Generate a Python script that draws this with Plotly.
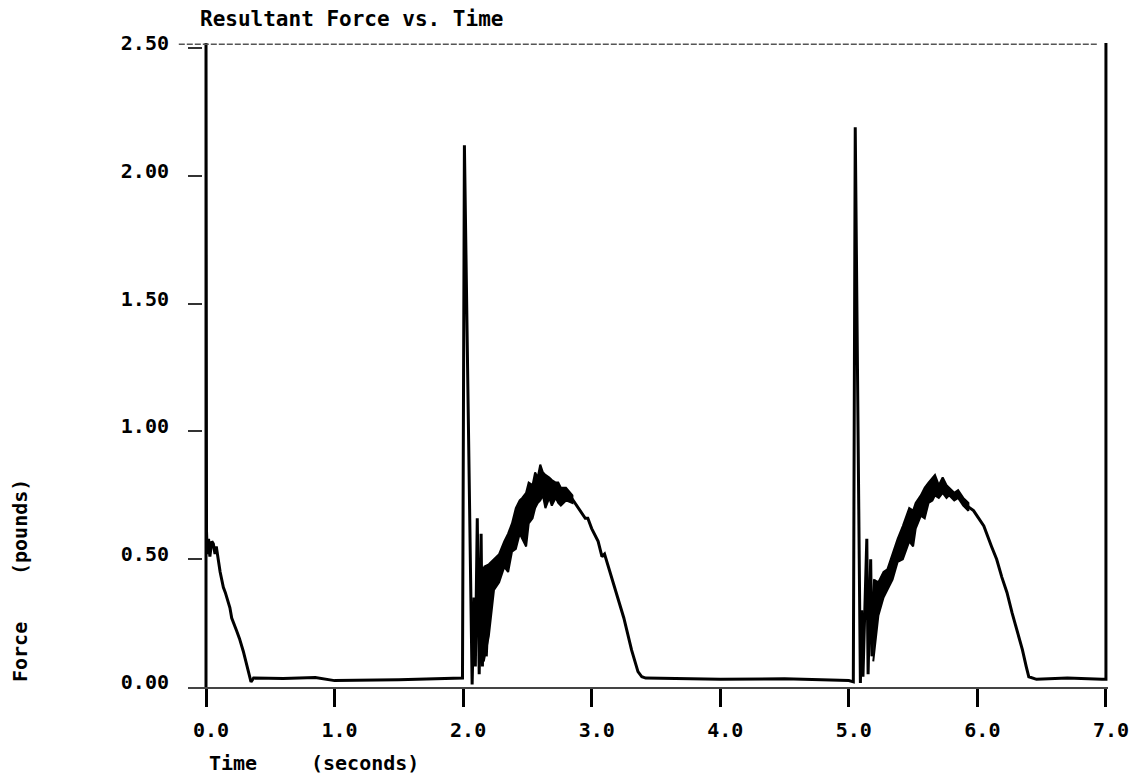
import plotly.graph_objects as go

# ---- data ----
# main force trace (time in seconds, force in pounds)
t_main = [0.0, 0.0, 0.004, 0.01, 0.02, 0.03, 0.045, 0.057, 0.07, 0.08, 0.095, 0.11, 0.135, 0.15,
          0.186, 0.20, 0.238, 0.26, 0.29, 0.32, 0.35,
          0.37, 0.6, 0.85, 1.0, 1.5, 1.95, 1.995,
          2.01, 2.07, 2.085, 2.095, 2.11, 2.125, 2.14, 2.15, 2.165, 2.18, 2.20,
          2.28, 2.35, 2.41, 2.46, 2.51, 2.56, 2.60, 2.65, 2.69, 2.74, 2.80, 2.85,
          2.90, 2.95, 2.97, 3.00, 3.05, 3.08, 3.10, 3.16, 3.20, 3.23, 3.25, 3.31, 3.36, 3.39,
          3.42, 4.0, 4.5, 5.0, 5.035,
          5.05, 5.09, 5.10, 5.11, 5.14, 5.15, 5.17, 5.18, 5.20, 5.21, 5.23,
          5.30, 5.38, 5.47, 5.52, 5.56, 5.62, 5.67, 5.73, 5.78, 5.82, 5.85, 5.93,
          5.97, 6.01, 6.05, 6.11, 6.15, 6.19, 6.23, 6.27, 6.31, 6.35, 6.38, 6.40,
          6.46, 6.7, 6.97, 7.0, 7.0]
f_main = [0.0, 2.6, 0.61, 0.52, 0.58, 0.51, 0.57, 0.56, 0.52, 0.55, 0.50, 0.45, 0.39, 0.37,
          0.31, 0.27, 0.22, 0.19, 0.14, 0.08, 0.02,
          0.035, 0.033, 0.037, 0.025, 0.028, 0.035, 0.035,
          2.12, 0.01, 0.35, 0.08, 0.66, 0.05, 0.60, 0.08, 0.47, 0.12, 0.34,
          0.47, 0.53, 0.62, 0.66, 0.72, 0.77, 0.80, 0.78, 0.76, 0.76, 0.755, 0.735,
          0.70, 0.66, 0.66, 0.62, 0.57, 0.51, 0.52, 0.42, 0.35, 0.30, 0.27, 0.145, 0.06, 0.04,
          0.035, 0.03, 0.032, 0.025, 0.02,
          2.19, 0.016, 0.30, 0.04, 0.58, 0.05, 0.50, 0.12, 0.42, 0.25, 0.35,
          0.42, 0.535, 0.635, 0.67, 0.71, 0.76, 0.79, 0.79, 0.765, 0.745, 0.755, 0.705,
          0.69, 0.66, 0.63, 0.55, 0.50, 0.43, 0.37, 0.29, 0.22, 0.146, 0.08, 0.04,
          0.03, 0.035, 0.03, 0.03, 2.6]

# envelopes of the dense oscillation on the first hump
t_band1 = [2.16, 2.20, 2.24, 2.28, 2.32, 2.35, 2.38, 2.41, 2.44, 2.46, 2.49, 2.51, 2.54,
           2.56, 2.58, 2.60, 2.62, 2.64, 2.67, 2.69, 2.72, 2.74, 2.76, 2.80, 2.85]
lo_band1 = [0.10, 0.20, 0.38, 0.41, 0.47, 0.45, 0.53, 0.54, 0.60, 0.58, 0.55, 0.64, 0.66,
            0.70, 0.72, 0.73, 0.75, 0.70, 0.74, 0.71, 0.74, 0.72, 0.71, 0.73, 0.72]
hi_band1 = [0.47, 0.48, 0.50, 0.52, 0.57, 0.60, 0.64, 0.70, 0.73, 0.74, 0.76, 0.80, 0.79,
            0.84, 0.82, 0.87, 0.84, 0.83, 0.82, 0.81, 0.80, 0.80, 0.78, 0.78, 0.75]

# envelopes of the dense oscillation on the second hump
t_band2 = [5.19, 5.23, 5.27, 5.30, 5.34, 5.38, 5.42, 5.47, 5.50, 5.52, 5.56, 5.59, 5.62,
           5.65, 5.67, 5.70, 5.73, 5.76, 5.78, 5.82, 5.85, 5.89, 5.93]
lo_band2 = [0.10, 0.28, 0.35, 0.38, 0.42, 0.49, 0.50, 0.57, 0.55, 0.62, 0.67, 0.66, 0.72,
            0.73, 0.75, 0.74, 0.76, 0.74, 0.75, 0.73, 0.74, 0.71, 0.69]
hi_band2 = [0.42, 0.41, 0.45, 0.46, 0.52, 0.58, 0.63, 0.70, 0.69, 0.72, 0.75, 0.78, 0.80,
            0.82, 0.83, 0.79, 0.82, 0.79, 0.78, 0.76, 0.77, 0.74, 0.72]

x_ticks = [0, 1, 2, 3, 4, 5, 6, 7]
x_tick_labels = ["0.0", "1.0", "2.0", "3.0", "4.0", "5.0", "6.0", "7.0"]
y_ticks = [0.0, 0.5, 1.0, 1.5, 2.0, 2.5]
y_tick_labels = ["0.00", "0.50", "1.00", "1.50", "2.00", "2.50"]

FONT = "DejaVu Sans Mono"

fig = go.Figure()
for tb, lo, hi in [(t_band1, lo_band1, hi_band1), (t_band2, lo_band2, hi_band2)]:
    fig.add_trace(go.Scatter(
        x=tb + tb[::-1], y=hi + lo[::-1], fill="toself", fillcolor="black",
        mode="lines", line=dict(color="black", width=2), hoverinfo="skip", showlegend=False))

fig.add_trace(go.Scatter(x=t_main, y=f_main, mode="lines",
                         line=dict(color="black", width=3), showlegend=False))

L, R, T, B = 188, 35, 43, 89
W, H = 1143, 776
pw, ph = W - L - R, H - T - B

def px_x(p):
    return (p - L) / pw

def px_y(p):
    return (H - B - p) / ph

tickfont = dict(family=FONT, size=20, color="black", weight="bold")

fig.update_layout(
    width=W, height=H, margin=dict(l=L, r=R, t=T, b=B),
    paper_bgcolor="white", plot_bgcolor="white",
    xaxis=dict(range=[-0.14, 7.016], tickvals=x_ticks, ticktext=x_tick_labels,
               showgrid=False, zeroline=False, showline=True, linecolor="#444", linewidth=1.5,
               ticks="outside", ticklen=18, tickwidth=2.5, tickcolor="black",
               tickfont=tickfont, ticklabelstandoff=6, ticklabelshift=5),
    yaxis=dict(range=[0, 2.52], tickvals=y_ticks, ticktext=y_tick_labels,
               showgrid=False, zeroline=False, showline=False,
               ticks="inside", ticklen=14, tickwidth=1.5, tickcolor="#333",
               tickfont=tickfont, ticklabelstandoff=18, ticklabelshift=-5),
    shapes=[dict(type="line", xref="paper", yref="y", x0=-0.01, x1=0.99, y0=2.515, y1=2.515,
                 line=dict(color="#555", width=1.5, dash="6px,2px"))],
    annotations=[
        dict(text="Resultant Force vs. Time", xref="paper", yref="paper",
             x=px_x(198), y=px_y(19), xanchor="left", yanchor="middle", showarrow=False,
             font=dict(family=FONT, size=21, color="black", weight="bold")),
        dict(text="Force", xref="paper", yref="paper", x=px_x(20), y=px_y(652),
             xanchor="center", yanchor="middle", textangle=-90, showarrow=False,
             font=dict(family=FONT, size=20, color="black", weight="bold")),
        dict(text="(pounds)", xref="paper", yref="paper", x=px_x(20), y=px_y(527),
             xanchor="center", yanchor="middle", textangle=-90, showarrow=False,
             font=dict(family=FONT, size=20, color="black", weight="bold")),
        dict(text="Time", xref="paper", yref="paper", x=px_x(233), y=px_y(763),
             xanchor="center", yanchor="middle", showarrow=False,
             font=dict(family=FONT, size=20, color="black", weight="bold")),
        dict(text="(seconds)", xref="paper", yref="paper", x=px_x(365), y=px_y(763),
             xanchor="center", yanchor="middle", showarrow=False,
             font=dict(family=FONT, size=20, color="black", weight="bold")),
    ],
)

fig.write_html("out.html")
